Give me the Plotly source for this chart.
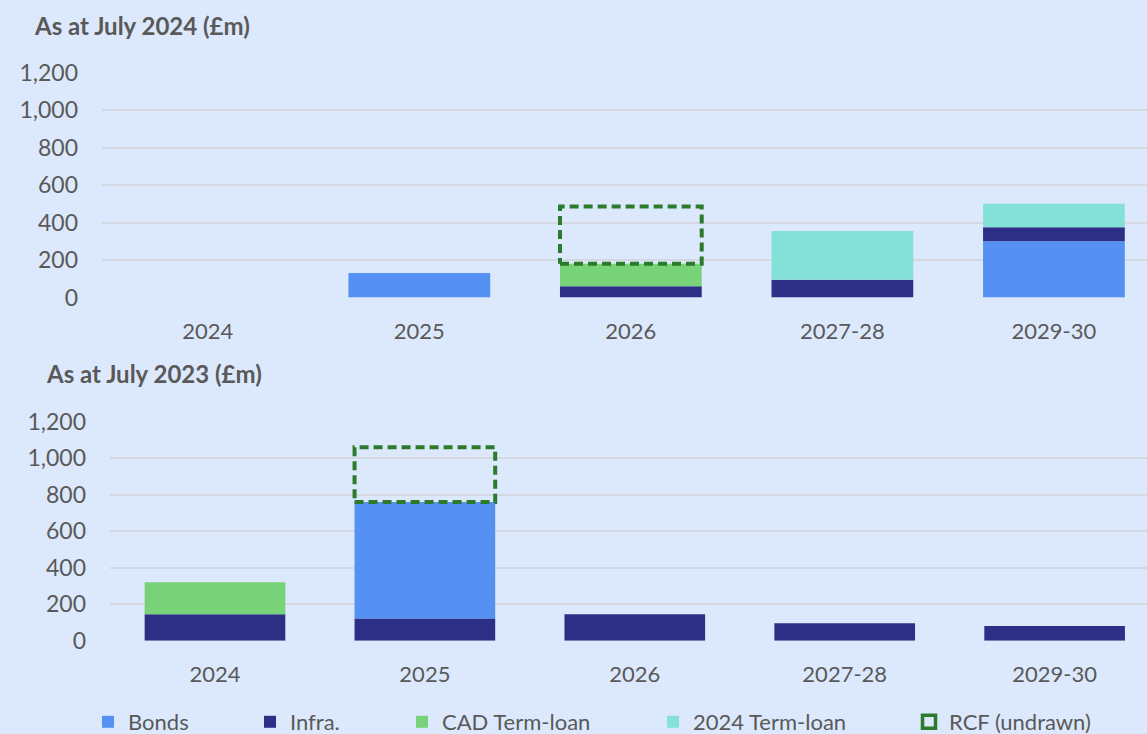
import plotly.graph_objects as go
from plotly.subplots import make_subplots

periods = ["2024", "2025", "2026", "2027-28", "2029-30"]

# As at July 2024 (£m)
bonds_24 = [0, 130, 0, 0, 300]
infra_24 = [0, 0, 60, 95, 75]
cad_24 = [0, 0, 120, 0, 0]
term_24 = [0, 0, 0, 260, 125]
rcf_24 = [0, 0, 305, 0, 0]

# As at July 2023 (£m)
bonds_23 = [0, 640, 0, 0, 0]
infra_23 = [145, 120, 145, 95, 80]
cad_23 = [175, 0, 0, 0, 0]
term_23 = [0, 0, 0, 0, 0]
rcf_23 = [0, 300, 0, 0, 0]

BG = "#DCE8FB"
GRID = "#D3D8E2"
TXT = "#595959"
FONT = "Lato"
colors = {
    "Bonds": "#5591F3",
    "Infra.": "#2D2F87",
    "CAD Term-loan": "#78D277",
    "2024 Term-loan": "#83E1D7",
}
RCF_COL = "#2C7A2C"
BAR_W = 0.67

fig = make_subplots(rows=2, cols=1, vertical_spacing=0.1)

xs = list(range(len(periods)))
legends = ["legend", "legend2", "legend3", "legend4"]

for row, (bonds, infra, cad, term, rcf) in enumerate(
    [(bonds_24, infra_24, cad_24, term_24, rcf_24),
     (bonds_23, infra_23, cad_23, term_23, rcf_23)], start=1):
    series = [("Bonds", bonds), ("Infra.", infra), ("CAD Term-loan", cad), ("2024 Term-loan", term)]
    for k, (name, vals) in enumerate(series):
        bases = []
        for i in range(len(periods)):
            # 2023 chart: infra at the bottom, bonds on top of it
            if row == 2 and name == "Bonds":
                bases.append(infra[i])
            elif row == 2 and name == "Infra.":
                bases.append(0)
            elif row == 2 and name == "CAD Term-loan":
                bases.append(infra[i] + bonds[i])
            elif name == "Bonds":
                bases.append(0)
            elif name == "Infra.":
                bases.append(bonds[i])
            elif name == "CAD Term-loan":
                bases.append(bonds[i] + infra[i])
            else:
                bases.append(bonds[i] + infra[i] + cad[i])
        fig.add_trace(go.Bar(
            x=xs, y=vals, base=bases, name=name, width=BAR_W,
            marker=dict(color=colors[name], line=dict(width=0)),
            showlegend=(row == 1), legend=legends[k],
        ), row=row, col=1)
    # RCF (undrawn) dashed box on top of the stack
    for i in range(len(periods)):
        if rcf[i] > 0:
            lo = bonds[i] + infra[i] + cad[i] + term[i]
            hi = lo + rcf[i]
            x0, x1 = i - BAR_W / 2, i + BAR_W / 2
            fig.add_trace(go.Scatter(
                x=[x0, x1, x1, x0, x0], y=[lo, lo, hi, hi, lo],
                mode="lines",
                line=dict(color=RCF_COL, width=4, dash="9px,5px"),
                name="RCF (undrawn)", showlegend=False, hoverinfo="skip",
            ), row=row, col=1)

# legend entry for the RCF box
fig.add_trace(go.Scatter(
    x=[None], y=[None], mode="markers", name="RCF (undrawn)",
    marker=dict(symbol="square-open", size=13, color=RCF_COL, line=dict(width=3.5, color=RCF_COL)),
    legend="legend5",
), row=1, col=1)

fig.update_layout(
    width=1147, height=734,
    margin=dict(l=0, r=0, t=0, b=0, autoexpand=False),
    paper_bgcolor=BG, plot_bgcolor=BG,
    barmode="overlay",
    font=dict(family=FONT, color=TXT, size=20),
)

fig.update_xaxes(
    tickvals=xs, ticktext=periods, showgrid=False, zeroline=False,
    showline=False, ticks="", tickfont=dict(size=22, color=TXT),
    ticklabelstandoff=18, automargin=False,
)
fig.update_xaxes(domain=[102 / 1147, 1.0], range=[-0.5, 4.44], row=1, col=1)
fig.update_xaxes(domain=[110 / 1147, 1.0], range=[-0.5, 4.44], row=2, col=1)

fig.update_yaxes(
    range=[0, 1200], tickvals=[0, 200, 400, 600, 800, 1000, 1200],
    tickformat=",", showgrid=True, gridcolor=GRID, gridwidth=2,
    zeroline=False, showline=False, ticks="",
    tickfont=dict(size=23, color=TXT), ticklabelstandoff=23, automargin=False,
)
fig.update_yaxes(domain=[(734 - 297.5) / 734, (734 - 72.5) / 734], row=1, col=1)
fig.update_yaxes(domain=[(734 - 640.7) / 734, (734 - 421.7) / 734], row=2, col=1)

fig.add_annotation(text="<b>As at July 2024 (£m)</b>", xref="paper", yref="paper",
                   x=32 / 1147, y=1 - 25 / 734, xanchor="left", yanchor="middle",
                   showarrow=False, font=dict(size=24, color=TXT))
fig.add_annotation(text="<b>As at July 2023 (£m)</b>", xref="paper", yref="paper",
                   x=44 / 1147, y=1 - 373 / 734, xanchor="left", yanchor="middle",
                   showarrow=False, font=dict(size=24, color=TXT))

leg_x = [88, 250, 402, 653, 909]
leg_common = dict(orientation="h", yanchor="middle", y=12 / 734,
                  xanchor="left", bgcolor="rgba(0,0,0,0)", font=dict(size=22, color=TXT),
                  itemwidth=30, tracegroupgap=0)
fig.update_layout(
    legend=dict(x=leg_x[0] / 1147, **leg_common),
    legend2=dict(x=leg_x[1] / 1147, **leg_common),
    legend3=dict(x=leg_x[2] / 1147, **leg_common),
    legend4=dict(x=leg_x[3] / 1147, **leg_common),
    legend5=dict(x=leg_x[4] / 1147, **leg_common),
)

fig.write_html("out.html", config={"displayModeBar": False},
               post_script="document.body.style.margin='0';")
